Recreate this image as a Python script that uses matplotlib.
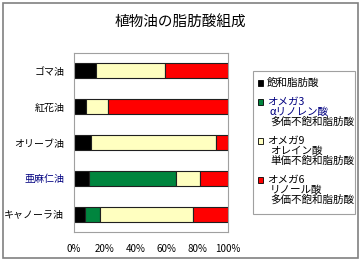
import matplotlib
matplotlib.use("Agg")
import matplotlib.pyplot as plt
from matplotlib.patches import Rectangle
import numpy as np

plt.rcParams['font.family'] = ['Noto Sans CJK JP', 'DejaVu Sans']

title = "植物油の脂肪酸組成"
oils = ["ゴマ油", "紅花油", "オリーブ油", "亜麻仁油", "キャノーラ油"]
saturated = [14, 8, 11, 10, 7]
omega3 = [0, 0, 0, 56, 10]
omega9 = [45, 14, 81, 16, 60]
omega6 = [41, 78, 8, 18, 23]
series = [saturated, omega3, omega9, omega6]
colors = ["#000000", "#00853E", "#FFFFC0", "#FF0000"]
legend_lines = [
    ["飽和脂肪酸"],
    ["オメガ3", "αリノレン酸", "多価不飽和脂肪酸"],
    ["オメガ9", "オレイン酸", "単価不飽和脂肪酸"],
    ["オメガ6", "リノール酸", "多価不飽和脂肪酸"],
]
xticks = [0, 20, 40, 60, 80, 100]

W, H = 362, 264
fig = plt.figure(figsize=(W / 100, H / 100), dpi=100)

def fx(px):
    return px / W

def fy(py):
    return 1 - py / H

# outer border
fig.patches.append(Rectangle((fx(3), fy(258)), fx(355), 255 / H, transform=fig.transFigure,
                             fill=False, edgecolor="#808080", linewidth=1.2))

ax = fig.add_axes([fx(74), fy(232), fx(228) - fx(74), (232 - 53) / H])
y = np.arange(len(oils))
left = np.zeros(len(oils))
for vals, c in zip(series, colors):
    ax.barh(y, vals, left=left, height=0.42, color=c, edgecolor="#202020", linewidth=0.8)
    left += np.array(vals)

ax.set_xlim(0, 100)
ax.set_ylim(len(oils) - 0.5, -0.5)
ax.set_yticks(y)
ax.set_yticklabels(oils, fontsize=7.2)
ax.get_yticklabels()[3].set_color("#000080")
ax.set_xticks(xticks)
ax.set_xticklabels([f"{t}%" for t in xticks], fontsize=7)
ax.tick_params(axis='both', length=0)
ax.tick_params(axis='x', pad=9)
ax.tick_params(axis='y', pad=7)
for s in ax.spines.values():
    s.set_edgecolor("#A0A0A0")
    s.set_linewidth(0.8)

fig.text(fx(180), fy(23), title, fontsize=10.5, ha='center', va='center')

# legend box
fig.patches.append(Rectangle((fx(253), fy(214)), fx(355) - fx(253), (214 - 71) / H,
                             transform=fig.transFigure, fill=False,
                             edgecolor="#A0A0A0", linewidth=0.8))
entry_y = [83, 102, 141, 180]
line_h = 9.8
for i, (lines, c, ey) in enumerate(zip(legend_lines, colors, entry_y)):
    fig.patches.append(Rectangle((fx(258), fy(ey + 2.7)), 5.4 / W, 5.4 / H,
                                 transform=fig.transFigure, facecolor=c,
                                 edgecolor="#000000", linewidth=0.6))
    for j, t in enumerate(lines):
        col = "#000080" if (i == 1 and j < 2) else "#000000"
        xpos = 267 if j == 0 else 270
        fig.text(fx(xpos), fy(ey + j * line_h), t, fontsize=7.6, ha='left', va='center', color=col)

fig.savefig("out.png", dpi=100)
